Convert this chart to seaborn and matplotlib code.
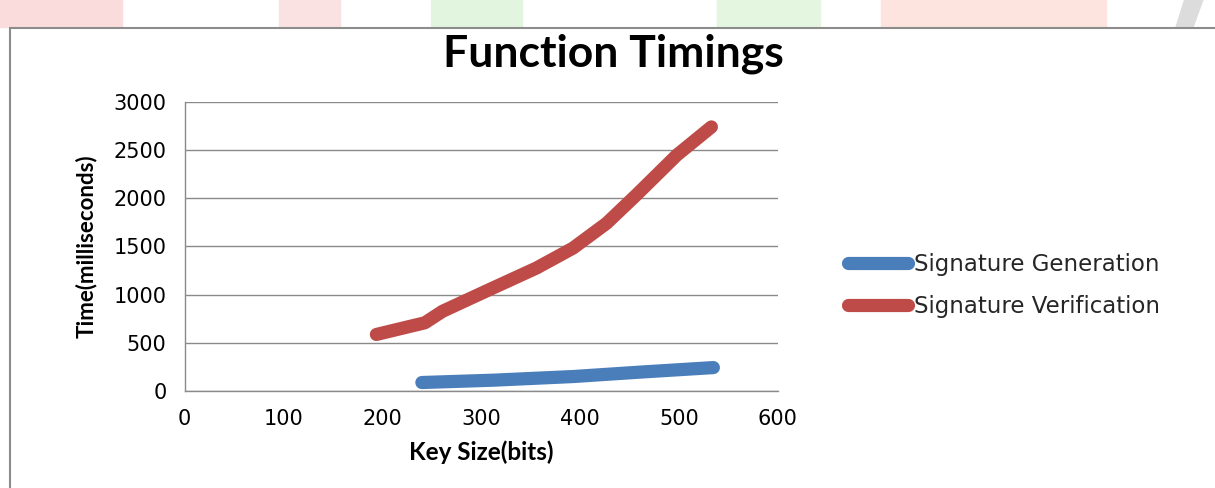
import matplotlib
matplotlib.use("Agg")
from matplotlib import pyplot as plt
from matplotlib.patches import Polygon, Rectangle
import numpy as np
import pandas as pd
import seaborn as sns

# values
gen_key_bits = [240, 312, 393, 464, 535]
gen_time_ms = [87, 111, 149, 197, 242]
ver_key_bits = [194, 243, 261, 312, 356, 393, 427, 457, 498, 533]
ver_time_ms = [586, 707, 827, 1069, 1276, 1483, 1741, 2034, 2448, 2741]
series_names = ["Signature Generation", "Signature Verification"]
x_ticks = [0, 100, 200, 300, 400, 500, 600]
y_ticks = [0, 500, 1000, 1500, 2000, 2500, 3000]

df = pd.concat(
    [
        pd.DataFrame({"bits": gen_key_bits, "ms": gen_time_ms, "series": series_names[0]}),
        pd.DataFrame({"bits": ver_key_bits, "ms": ver_time_ms, "series": series_names[1]}),
    ],
    ignore_index=True,
)

sns.set_style("white")
plt.rcParams["font.family"] = ["DejaVu Sans"]
plt.rcParams["text.color"] = "black"

fig = plt.figure(figsize=(12.15, 4.88), dpi=100)

# faint watermark streaks along the top edge
for x0, x1, col in [(0.0, 0.10, "#fadcdc"), (0.23, 0.28, "#fbe2e2"),
                    (0.355, 0.43, "#e2f5de"), (0.59, 0.675, "#e4f6e0"),
                    (0.725, 0.91, "#fde4de")]:
    fig.patches.append(Rectangle((x0, 0.945), x1 - x0, 0.06, transform=fig.transFigure,
                                 color=col, zorder=0))
fig.patches.append(Polygon([[0.975, 1.0], [0.99, 1.0], [0.982, 0.945], [0.968, 0.945]],
                           closed=True, transform=fig.transFigure, color="#dcdcdc", zorder=0))
# chart frame
fig.patches.append(Rectangle((0.008, -0.05), 1.1, 0.993, transform=fig.transFigure,
                             fill=False, edgecolor="#8c8c8c", linewidth=1.5, zorder=1))

ax = fig.add_axes([0.152, 0.199, 0.488, 0.592])
palette = {series_names[0]: "#4a7ebb", series_names[1]: "#be4b48"}
sns.lineplot(data=df, x="bits", y="ms", hue="series", palette=palette, ax=ax,
             linewidth=9.5, solid_capstyle="round", solid_joinstyle="round",
             sort=False, legend=False)

ax.set_xlim(0, 600)
ax.set_ylim(0, 3000)
ax.set_xticks(x_ticks)
ax.set_yticks(y_ticks)
ax.tick_params(axis="both", length=0, labelsize=15, colors="black")
ax.tick_params(axis="x", pad=13)
ax.tick_params(axis="y", pad=13)
ax.grid(True, axis="y", color="#8a8a8a", linewidth=1)
ax.grid(False, axis="x")
for side in ["top", "right"]:
    ax.spines[side].set_visible(False)
for side in ["left", "bottom"]:
    ax.spines[side].set_color("#8a8a8a")
    ax.spines[side].set_linewidth(1)

ax.set_xlabel("Key Size(bits)", family=["Lato", "DejaVu Sans"], color="black",
              fontsize=17.5, fontweight="bold", labelpad=8)
ax.set_ylabel("Time(milliseconds)", family=["Lato", "DejaVu Sans"], color="black",
              fontsize=16, fontweight="bold", labelpad=12)
fig.text(0.505, 0.89, "Function Timings", ha="center", va="center",
         family=["Lato", "DejaVu Sans"], fontsize=32, fontweight="bold", color="black")

handles = [plt.Line2D([], [], color=palette[n], linewidth=9.5, solid_capstyle="round")
           for n in series_names]
leg = fig.legend(handles, series_names, loc="center left", bbox_to_anchor=(0.681, 0.415),
                 frameon=False, fontsize=16.5, handlelength=2.6, handletextpad=0.3,
                 labelspacing=0.85)
for t in leg.get_texts():
    t.set_color("#262626")

fig.savefig("out.png", dpi=100)
